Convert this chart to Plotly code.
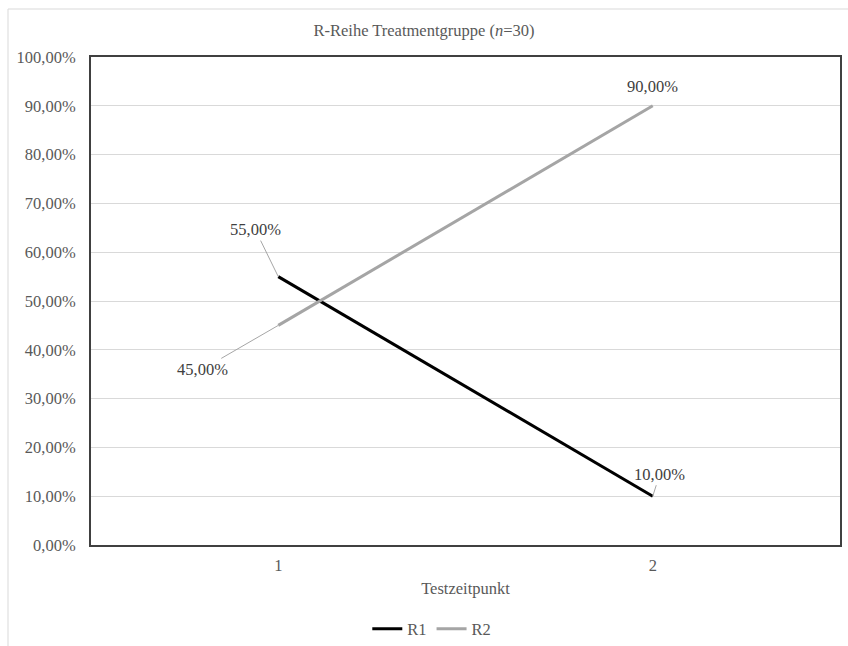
import plotly.graph_objects as go

# Testzeitpunkte und Anteile der R-Reihe (Treatmentgruppe)
zeitpunkte = [1, 2]
r1_anteile = [0.55, 0.10]
r2_anteile = [0.45, 0.90]
serien = ["R1", "R2"]
farben = ["#000000", "#A5A5A5"]

y_ticks = [i / 10 for i in range(11)]

FONT = "Liberation Serif, Times New Roman, serif"
GRAU = "#595959"

W, H = 848, 646
ML, MR, MT, MB = 91, 8, 57, 101
PW, PH = W - ML - MR, H - MT - MB

fig = go.Figure()
for name, werte, farbe in zip(serien, [r1_anteile, r2_anteile], farben):
    fig.add_trace(go.Scatter(
        x=zeitpunkte, y=werte, name=name, mode="lines",
        line=dict(color=farbe, width=3),
        hoverinfo="skip",
    ))

def pct(v):
    return f"{v * 100:.2f}".replace(".", ",") + "%"

# Datenbeschriftungen mit Führungslinien
label_offsets = {
    ("R1", 0): (-23, -47, True),
    ("R1", 1): (7, -22, True),
    ("R2", 0): (-76, 44, True),
    ("R2", 1): (0, -19, False),
}
for name, werte in zip(serien, [r1_anteile, r2_anteile]):
    for i, (x, v) in enumerate(zip(zeitpunkte, werte)):
        ax, ay, arrow = label_offsets[(name, i)]
        if arrow:
            fig.add_annotation(
                x=x, y=v, text=pct(v), showarrow=True, arrowhead=0,
                arrowwidth=1, arrowcolor="#A6A6A6", ax=ax, ay=ay,
                standoff=0, font=dict(family=FONT, size=16.5, color="#404040"),
            )
        else:
            fig.add_annotation(
                x=x, y=v, text=pct(v), showarrow=False, yshift=-ay,
                font=dict(family=FONT, size=16.5, color="#404040"),
            )

# heller Rahmen des Diagrammbereichs
x0 = (8 - ML) / PW
y_top = (H - 9 - MB) / PH
fig.add_shape(type="line", xref="paper", yref="paper",
              x0=x0, x1=x0, y0=-MB / PH, y1=y_top,
              line=dict(color="#D9D9D9", width=1))
fig.add_shape(type="line", xref="paper", yref="paper",
              x0=x0, x1=(W - ML) / PW, y0=y_top, y1=y_top,
              line=dict(color="#D9D9D9", width=1))

fig.update_layout(
    width=W, height=H,
    margin=dict(l=ML, r=MR, t=MT, b=MB, autoexpand=False),
    paper_bgcolor="white", plot_bgcolor="white",
    separators=",.",
    font=dict(family=FONT, size=16, color=GRAU),
    title=dict(
        text="R-Reihe Treatmentgruppe (<i>n</i>=30)",
        x=0.5, xanchor="center", xref="container",
        y=1 - 30 / H, yanchor="middle", yref="container",
        font=dict(family=FONT, size=16.5, color=GRAU),
    ),
    showlegend=True,
    legend=dict(
        orientation="h", x=0.455, xanchor="center",
        y=-(629 - (H - MB)) / PH, yanchor="middle",
        font=dict(family=FONT, size=16.5, color=GRAU),
        itemwidth=30,
    ),
    xaxis=dict(
        range=[0.5, 2.5], tickvals=zeitpunkte, ticktext=[str(z) for z in zeitpunkte],
        showgrid=False, zeroline=False,
        showline=True, mirror=True, linecolor="#404040", linewidth=2,
        ticks="", ticklabelstandoff=4,
        tickfont=dict(family=FONT, size=16.5, color=GRAU),
        title=dict(text="Testzeitpunkt", standoff=9,
                   font=dict(family=FONT, size=16.5, color=GRAU)),
        fixedrange=True,
    ),
    yaxis=dict(
        range=[0, 1], tickvals=y_ticks, tickformat=".2%",
        showgrid=True, gridcolor="#D9D9D9", gridwidth=1,
        zeroline=False,
        showline=True, mirror=True, linecolor="#404040", linewidth=2,
        ticks="", ticklabelstandoff=10,
        tickfont=dict(family=FONT, size=16.5, color=GRAU),
        fixedrange=True,
    ),
)

fig.write_html("out.html")
